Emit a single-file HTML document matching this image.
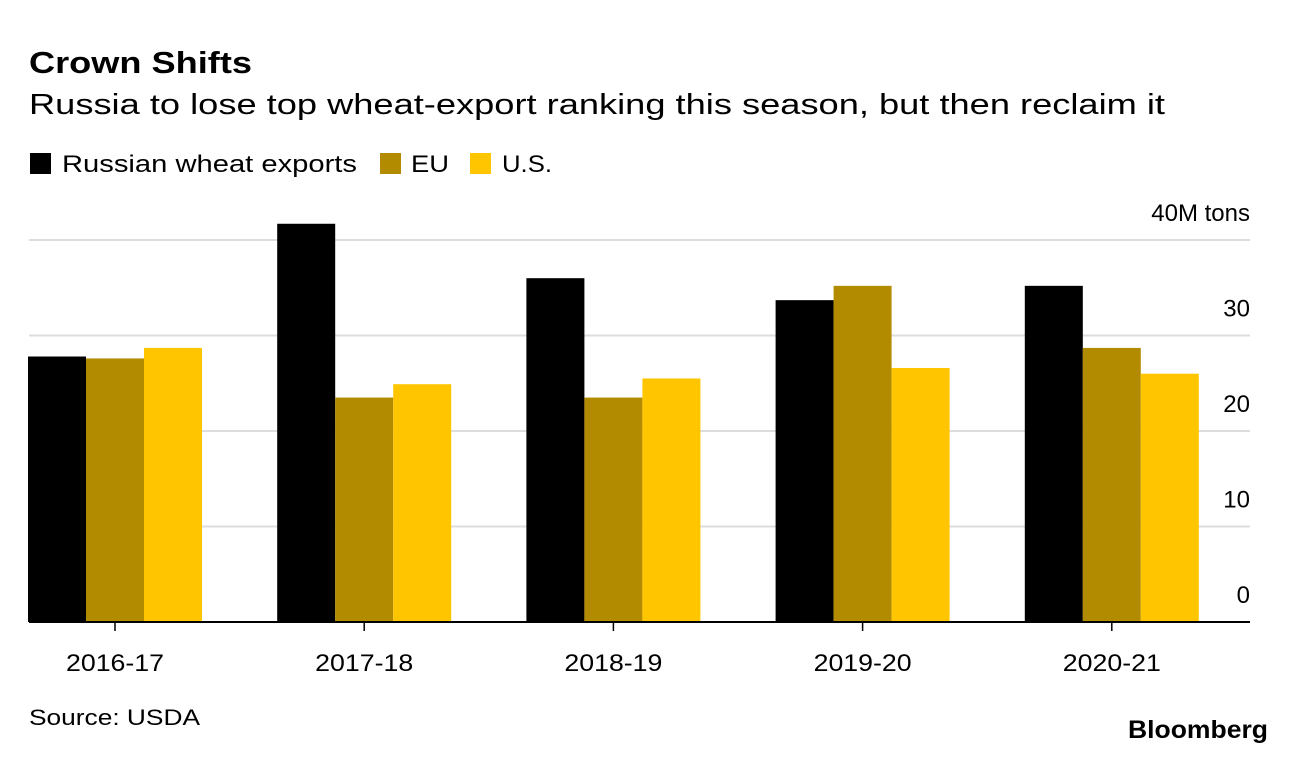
<!DOCTYPE html>
<html><head><meta charset="utf-8"><style>
body{margin:0;background:#fff;width:1296px;height:756px;overflow:hidden;font-family:"Liberation Sans",sans-serif;}
</style></head><body>
<svg width="1296" height="756" style="font-family:'Liberation Sans',sans-serif">
<text x="29" y="73" font-size="31" font-weight="bold" fill="#000" textLength="223" lengthAdjust="spacingAndGlyphs">Crown Shifts</text>
<text x="29" y="114" font-size="29" fill="#000" textLength="1136" lengthAdjust="spacingAndGlyphs">Russia to lose top wheat-export ranking this season, but then reclaim it</text>
<g>
<rect x="30" y="153" width="21" height="21" fill="#000"/>
<text x="62" y="172" font-size="24" textLength="295" lengthAdjust="spacingAndGlyphs">Russian wheat exports</text>
<rect x="380" y="153" width="21" height="21" fill="#b38b00"/>
<text x="411" y="172" font-size="24" textLength="38" lengthAdjust="spacingAndGlyphs">EU</text>
<rect x="470" y="153" width="21" height="21" fill="#ffc600"/>
<text x="502" y="172" font-size="24" textLength="50" lengthAdjust="spacingAndGlyphs">U.S.</text>
</g>
<g id="grid"></g><g id="bars"></g><g id="axis"></g>
<text x="29" y="725" font-size="22" textLength="171" lengthAdjust="spacingAndGlyphs">Source: USDA</text>
<text x="1128" y="738" font-size="25" font-weight="bold" textLength="140" lengthAdjust="spacingAndGlyphs">Bloomberg</text>
</svg>
<script>
const categories=["2016-17","2017-18","2018-19","2019-20","2020-21"];
const russia=[27.8,41.7,36.0,33.7,35.2];
const eu=[27.6,23.5,23.5,35.2,28.7];
const us=[28.7,24.9,25.5,26.6,26.0];
const yTicks=[0,10,20,30,40];
const yTickLabels=["0","10","20","30","40M tons"];
const NS="http://www.w3.org/2000/svg";
const y0=622,pxPer=9.55,left=29,right=1250,step=249.2,bw=58;
const y=v=>y0-v*pxPer;
const cx=i=>115+i*step;
function mk(tag,attrs,parent,text){const e=document.createElementNS(NS,tag);for(const k in attrs)e.setAttribute(k,attrs[k]);if(text!==undefined)e.textContent=text;document.getElementById(parent).appendChild(e);return e;}
yTicks.forEach((t,i)=>{
 if(t>0){const l=mk('line',{x1:left,x2:right,y1:y(t),y2:y(t),stroke:'#ddd','stroke-width':2},'grid');
 
 }
 const tx=mk('text',{x:right,y:y(t)-19,'font-size':24,'text-anchor':'end',fill:'#000'},'grid',yTickLabels[i]);
 
 
});
const series=[[russia,'#000','russia'],[eu,'#b38b00','eu'],[us,'#ffc600','us']];
categories.forEach((c,i)=>{
 series.forEach(([arr,col,nm],j)=>{
  const r=mk('rect',{x:cx(i)-1.5*bw+j*bw,y:y(arr[i]),width:bw,height:arr[i]*pxPer,fill:col},'bars');
  
  
 });
 const tk=mk('line',{x1:cx(i),x2:cx(i),y1:y0,y2:y0+9,stroke:'#000','stroke-width':1.5},'axis');
 
 
 const lb=mk('text',{x:cx(i)-49,y:671,'font-size':24,textLength:98,lengthAdjust:'spacingAndGlyphs'},'axis',c);
 
 
});
const base=mk('line',{x1:left,x2:right,y1:y0,y2:y0,stroke:'#000','stroke-width':2},'axis');


</script>
</body></html>
